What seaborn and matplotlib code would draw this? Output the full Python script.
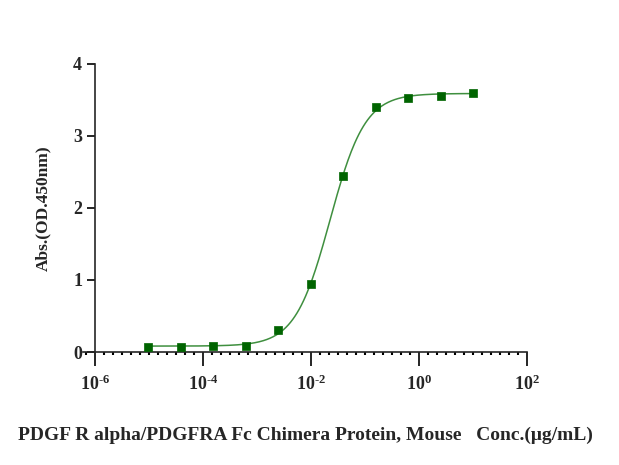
import numpy as np
import pandas as pd
import matplotlib
matplotlib.use('Agg')
import matplotlib.pyplot as plt
import seaborn as sns
from matplotlib.ticker import FixedLocator, NullFormatter

# data: 4-fold dilution from 10 ug/mL
conc = [10, 2.5, 0.625, 0.156, 0.039, 0.0098, 0.00244, 6.1e-4, 1.53e-4, 3.8e-5, 9.5e-6]
absorb = [3.60, 3.55, 3.53, 3.40, 2.45, 0.95, 0.31, 0.09, 0.08, 0.07, 0.07]
xticks = [1e-6, 1e-4, 1e-2, 1e0, 1e2]
xticklabels = ['-6', '-4', '-2', '0', '2']
yticks = [0, 1, 2, 3, 4]

df = pd.DataFrame({'conc': conc, 'abs': absorb})

# 4PL fit: grid over logEC50 / hill, bottom & top by least squares
lx = np.log10(df['conc'].values)
y = df['abs'].values
best = None
for le in np.linspace(-3, -1, 201):
    for h in np.linspace(0.5, 3, 126):
        s = 1 / (1 + 10 ** ((le - lx) * h))
        A = np.column_stack([np.ones_like(s), s])
        coef, res, _, _ = np.linalg.lstsq(A, y, rcond=None)
        err = np.sum((A @ coef - y) ** 2)
        if best is None or err < best[0]:
            best = (err, le, h, coef)
_, le, h, (bot, span) = best
xs = np.logspace(np.log10(min(conc)), np.log10(max(conc)), 300)
curve = pd.DataFrame({'conc': xs, 'abs': bot + span / (1 + 10 ** ((le - np.log10(xs)) * h))})

sns.set_style('ticks')
plt.rcParams['font.family'] = ['Liberation Serif', 'DejaVu Serif']
plt.rcParams['font.weight'] = 'bold'
plt.rcParams['mathtext.fontset'] = 'custom'
plt.rcParams['mathtext.rm'] = 'Liberation Serif:bold'
plt.rcParams['mathtext.bf'] = 'Liberation Serif:bold'

fig = plt.figure(figsize=(6.19, 4.65), dpi=100)
ax = fig.add_axes([83 / 619, 113 / 465, 444 / 619, 288 / 465])

sns.lineplot(data=curve, x='conc', y='abs', ax=ax, color='#3f8f3f', linewidth=1.1)
sns.scatterplot(data=df, x='conc', y='abs', ax=ax, marker='s', s=30, color='#006400',
                edgecolor='#006400', linewidth=0.5, zorder=3)

ax.set_xscale('log')
ax.set_xlim(10 ** -6.23, 1e2)
ax.set_ylim(0, 4)
ax.spines['right'].set_visible(False)
ax.spines['top'].set_visible(False)
ax.spines['left'].set_position(('data', 1e-6))
ax.spines['left'].set_bounds(0, 4)
ax.spines['bottom'].set_linewidth(1.2)
ax.spines['left'].set_linewidth(1.2)

ax.set_xticks(xticks)
ax.set_xticklabels([r'$\mathrm{10^{\text{%s}}}$' % t for t in xticklabels])
minor = [10 ** (-6 + k / 6) for k in range(-1, 48) if k % 12 != 0]
ax.xaxis.set_minor_locator(FixedLocator(minor))
ax.xaxis.set_minor_formatter(NullFormatter())
ax.tick_params(axis='x', which='major', length=10, width=1.2, labelsize=13, pad=6, color='black')
ax.tick_params(axis='x', which='minor', length=2, width=1.5, color='black')
ax.set_yticks(yticks)
ax.tick_params(axis='y', which='major', length=6, width=1.2, labelsize=13, color='black')
ax.tick_params(axis='y', which='minor', length=0)

ax.set_xlabel('PDGF R alpha/PDGFRA Fc Chimera Protein, Mouse   Conc.(\u03bcg/mL)',
              fontsize=14, fontweight='bold', labelpad=24)
ax.set_ylabel('Abs.(OD.450nm)', fontsize=12.5, fontweight='bold', labelpad=16)

fig.savefig('out.png', dpi=100)
